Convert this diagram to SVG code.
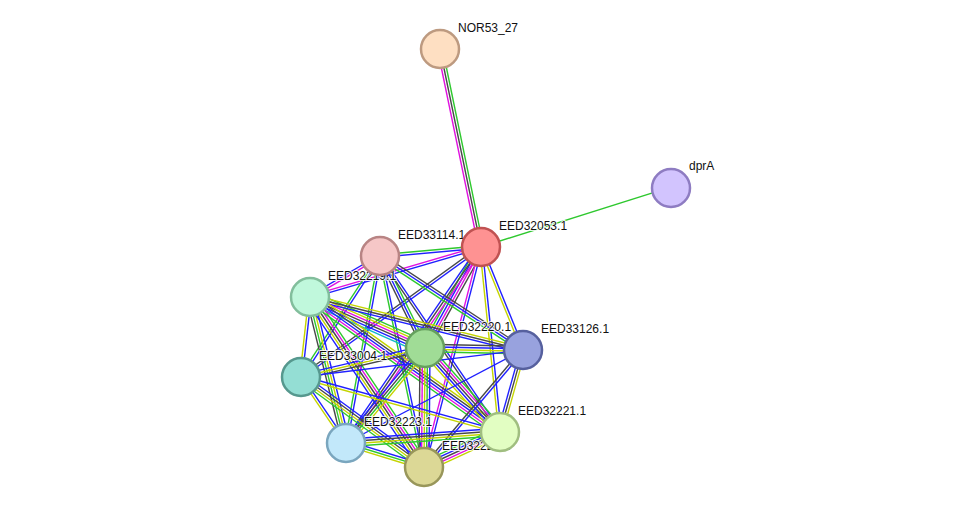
<svg xmlns="http://www.w3.org/2000/svg" width="976" height="513" viewBox="0 0 976 513">
<style>
.lbl{font-family:"Liberation Sans",Arial,sans-serif;font-size:12px;fill:#111;stroke:#fff;stroke-width:2;stroke-opacity:0.85;paint-order:stroke;stroke-linejoin:round}
#edges path{fill:none;stroke-width:1.4}
.g{stroke:#2ec82e}.b{stroke:#2020ff}.m{stroke:#e010e0}.k{stroke:#484848}.y{stroke:#c4d400}.c{stroke:#10b8c8}
.node circle{stroke-width:2.5}
</style>
<rect width="976" height="513" fill="#fff"/>
<g id="edges">
<!-- N-A -->
<g transform="translate(440,49) rotate(78.3)"><path class="g" d="M0 -2.5H202"/><path class="k" d="M0 0H202"/><path class="m" d="M0 2.5H202"/></g>
<!-- A-P -->
<g transform="translate(481,247) rotate(-17.52)"><path class="g" d="M0 0H199"/></g>
<!-- B-A -->
<g transform="translate(380,256) rotate(-5.09)"><path class="g" d="M0 -1.25H101"/><path class="b" d="M0 1.25H101"/></g>
<!-- C-A -->
<g transform="translate(310,297) rotate(-16.3)"><path class="m" d="M0 -1.25H178"/><path class="b" d="M0 1.25H178"/></g>
<!-- D-A -->
<g transform="translate(425,348) rotate(-61)"><path class="g" d="M0 -3.75H115"/><path class="b" d="M0 -1.25H115"/><path class="m" d="M0 1.25H115"/><path class="k" d="M0 3.75H115"/></g>
<!-- A-E -->
<g transform="translate(481,247) rotate(67.82)"><path class="b" d="M0 -1.25H111"/><path class="y" d="M0 1.25H111"/></g>
<!-- F-A -->
<g transform="translate(301,377) rotate(-35.84)"><path class="k" d="M0 -1.25H222"/><path class="b" d="M0 1.25H222"/></g>
<!-- G-A -->
<g transform="translate(346,443) rotate(-55.44)"><path class="b" d="M0 -2.5H238"/><path class="k" d="M0 0H238"/><path class="m" d="M0 2.5H238"/></g>
<!-- H-A -->
<g transform="translate(424,467) rotate(-75.47)"><path class="m" d="M0 -1.25H227"/><path class="b" d="M0 1.25H227"/></g>
<!-- A-I -->
<g transform="translate(481,247) rotate(84.14)"><path class="b" d="M0 -1.25H186"/><path class="y" d="M0 1.25H186"/></g>
<!-- C-B -->
<g transform="translate(310,297) rotate(-30.36)"><path class="b" d="M0 -1.25H81"/><path class="m" d="M0 1.25H81"/></g>
<!-- B-D -->
<g transform="translate(380,256) rotate(63.94)"><path class="g" d="M0 -2.5H102"/><path class="b" d="M0 0H102"/><path class="k" d="M0 2.5H102"/></g>
<!-- B-E -->
<g transform="translate(380,256) rotate(33.32)"><path class="k" d="M0 -2.5H171"/><path class="b" d="M0 0H171"/><path class="g" d="M0 2.5H171"/></g>
<!-- B-F -->
<g transform="translate(380,256) rotate(123.14)"><path class="b" d="M0 -1.25H144"/><path class="g" d="M0 1.25H144"/></g>
<!-- B-G -->
<g transform="translate(380,256) rotate(100.3)"><path class="b" d="M0 -1.25H190"/><path class="g" d="M0 1.25H190"/></g>
<!-- B-H -->
<g transform="translate(380,256) rotate(78.22)"><path class="b" d="M0 -1.25H215"/><path class="g" d="M0 1.25H215"/></g>
<!-- B-I -->
<g transform="translate(380,256) rotate(55.71)"><path class="b" d="M0 -1.25H213"/><path class="k" d="M0 1.25H213"/></g>
<!-- C-D -->
<g transform="translate(310,297) rotate(23.92)"><path class="g" d="M0 -6.25H126"/><path class="y" d="M0 -3.75H126"/><path class="m" d="M0 -1.25H126"/><path class="k" d="M0 1.25H126"/><path class="b" d="M0 3.75H126"/><path class="c" d="M0 6.25H126"/></g>
<!-- C-E -->
<g transform="translate(310,297) rotate(13.97)"><path class="y" d="M0 -2.5H219"/><path class="k" d="M0 0H219"/><path class="b" d="M0 2.5H219"/></g>
<!-- C-F -->
<g transform="translate(310,297) rotate(96.42)"><path class="b" d="M0 -1.25H80"/><path class="y" d="M0 1.25H80"/></g>
<!-- C-G -->
<g transform="translate(310,297) rotate(76.15)"><path class="b" d="M0 -3.75H150"/><path class="y" d="M0 -1.25H150"/><path class="g" d="M0 1.25H150"/><path class="k" d="M0 3.75H150"/></g>
<!-- C-H -->
<g transform="translate(310,297) rotate(56.15)"><path class="g" d="M0 -5H205"/><path class="m" d="M0 -2.5H205"/><path class="k" d="M0 0H205"/><path class="y" d="M0 2.5H205"/><path class="b" d="M0 5H205"/></g>
<!-- C-I -->
<g transform="translate(310,297) rotate(35.39)"><path class="y" d="M0 -5H233"/><path class="k" d="M0 -2.5H233"/><path class="b" d="M0 0H233"/><path class="m" d="M0 2.5H233"/><path class="g" d="M0 5H233"/></g>
<!-- D-E -->
<g transform="translate(425,348) rotate(1.17)"><path class="k" d="M0 -3.75H98"/><path class="b" d="M0 -1.25H98"/><path class="y" d="M0 1.25H98"/><path class="g" d="M0 3.75H98"/></g>
<!-- F-D -->
<g transform="translate(301,377) rotate(-13.16)"><path class="b" d="M0 -2.5H127"/><path class="y" d="M0 0H127"/><path class="k" d="M0 2.5H127"/></g>
<!-- G-D -->
<g transform="translate(346,443) rotate(-50.26)"><path class="b" d="M0 -3.75H124"/><path class="k" d="M0 -1.25H124"/><path class="g" d="M0 1.25H124"/><path class="y" d="M0 3.75H124"/></g>
<!-- D-H -->
<g transform="translate(425,348) rotate(90.48)"><path class="b" d="M0 -5H119"/><path class="g" d="M0 -2.5H119"/><path class="y" d="M0 0H119"/><path class="m" d="M0 2.5H119"/><path class="k" d="M0 5H119"/></g>
<!-- D-I -->
<g transform="translate(425,348) rotate(48.24)"><path class="g" d="M0 -5H113"/><path class="m" d="M0 -2.5H113"/><path class="k" d="M0 0H113"/><path class="b" d="M0 2.5H113"/><path class="y" d="M0 5H113"/></g>
<!-- F-E -->
<g transform="translate(301,377) rotate(-6.93)"><path class="b" d="M0 0H224"/></g>
<!-- G-E -->
<g transform="translate(346,443) rotate(-27.72)"><path class="b" d="M0 0H200"/></g>
<!-- H-E -->
<g transform="translate(424,467) rotate(-49.76)"><path class="k" d="M0 -1.25H153"/><path class="b" d="M0 1.25H153"/></g>
<!-- I-E -->
<g transform="translate(500,432) rotate(-74.33)"><path class="b" d="M0 -2.5H85"/><path class="k" d="M0 0H85"/><path class="y" d="M0 2.5H85"/></g>
<!-- F-G -->
<g transform="translate(301,377) rotate(55.71)"><path class="b" d="M0 -1.25H80"/><path class="y" d="M0 1.25H80"/></g>
<!-- F-H -->
<g transform="translate(301,377) rotate(36.19)"><path class="b" d="M0 -3.75H152"/><path class="k" d="M0 -1.25H152"/><path class="y" d="M0 1.25H152"/><path class="g" d="M0 3.75H152"/></g>
<!-- F-I -->
<g transform="translate(301,377) rotate(15.45)"><path class="b" d="M0 -1.25H206"/><path class="y" d="M0 1.25H206"/></g>
<!-- G-H -->
<g transform="translate(346,443) rotate(17.1)"><path class="b" d="M0 -2.5H82"/><path class="g" d="M0 0H82"/><path class="y" d="M0 2.5H82"/></g>
<!-- G-I -->
<g transform="translate(346,443) rotate(-4.09)"><path class="b" d="M0 -3.75H154"/><path class="k" d="M0 -1.25H154"/><path class="y" d="M0 1.25H154"/><path class="g" d="M0 3.75H154"/></g>
<!-- H-I -->
<g transform="translate(424,467) rotate(-24.73)"><path class="g" d="M0 -5H84"/><path class="b" d="M0 -2.5H84"/><path class="k" d="M0 0H84"/><path class="m" d="M0 2.5H84"/><path class="y" d="M0 5H84"/></g>
</g>
<g id="labels">
<text class="lbl" x="458" y="32">NOR53_27</text>
<text class="lbl" x="689" y="170">dprA</text>
<text class="lbl" x="499" y="230">EED32053.1</text>
<text class="lbl" x="398" y="239">EED33114.1</text>
<text class="lbl" x="328" y="280">EED32219.1</text>
<text class="lbl" x="443" y="331">EED32220.1</text>
<text class="lbl" x="541" y="333">EED33126.1</text>
<text class="lbl" x="319" y="360">EED33004.1</text>
<text class="lbl" x="364" y="426">EED32223.1</text>
<text class="lbl" x="442" y="450">EED32222.1</text>
<text class="lbl" x="518" y="415">EED32221.1</text>
</g>
<g id="n-NOR53_27" class="node"><circle cx="440" cy="49" r="19" fill="#fedfc2" stroke="#bd9a80"/></g>
<g id="n-dprA" class="node"><circle cx="671" cy="188" r="19" fill="#d2c4fe" stroke="#8e7cc2"/></g>
<g id="n-EED32053.1" class="node"><circle cx="481" cy="247" r="19" fill="#fe9292" stroke="#c05252"/></g>
<g id="n-EED33114.1" class="node"><circle cx="380" cy="256" r="19" fill="#f6c7c7" stroke="#b88484"/></g>
<g id="n-EED32219.1" class="node"><circle cx="310" cy="297" r="19" fill="#c0f8dc" stroke="#82be9c"/></g>
<g id="n-EED32220.1" class="node"><circle cx="425" cy="348" r="19" fill="#a0dc96" stroke="#66a05e"/></g>
<g id="n-EED33126.1" class="node"><circle cx="523" cy="350" r="19" fill="#98a2de" stroke="#56609e"/></g>
<g id="n-EED33004.1" class="node"><circle cx="301" cy="377" r="19" fill="#94ded4" stroke="#56988e"/></g>
<g id="n-EED32223.1" class="node"><circle cx="346" cy="443" r="19" fill="#c2e8fa" stroke="#7aa6be"/></g>
<g id="n-EED32222.1" class="node"><circle cx="424" cy="467" r="19" fill="#dcd896" stroke="#98965a"/></g>
<g id="n-EED32221.1" class="node"><circle cx="500" cy="432" r="19" fill="#e2fec2" stroke="#a0be80"/></g>
</svg>
